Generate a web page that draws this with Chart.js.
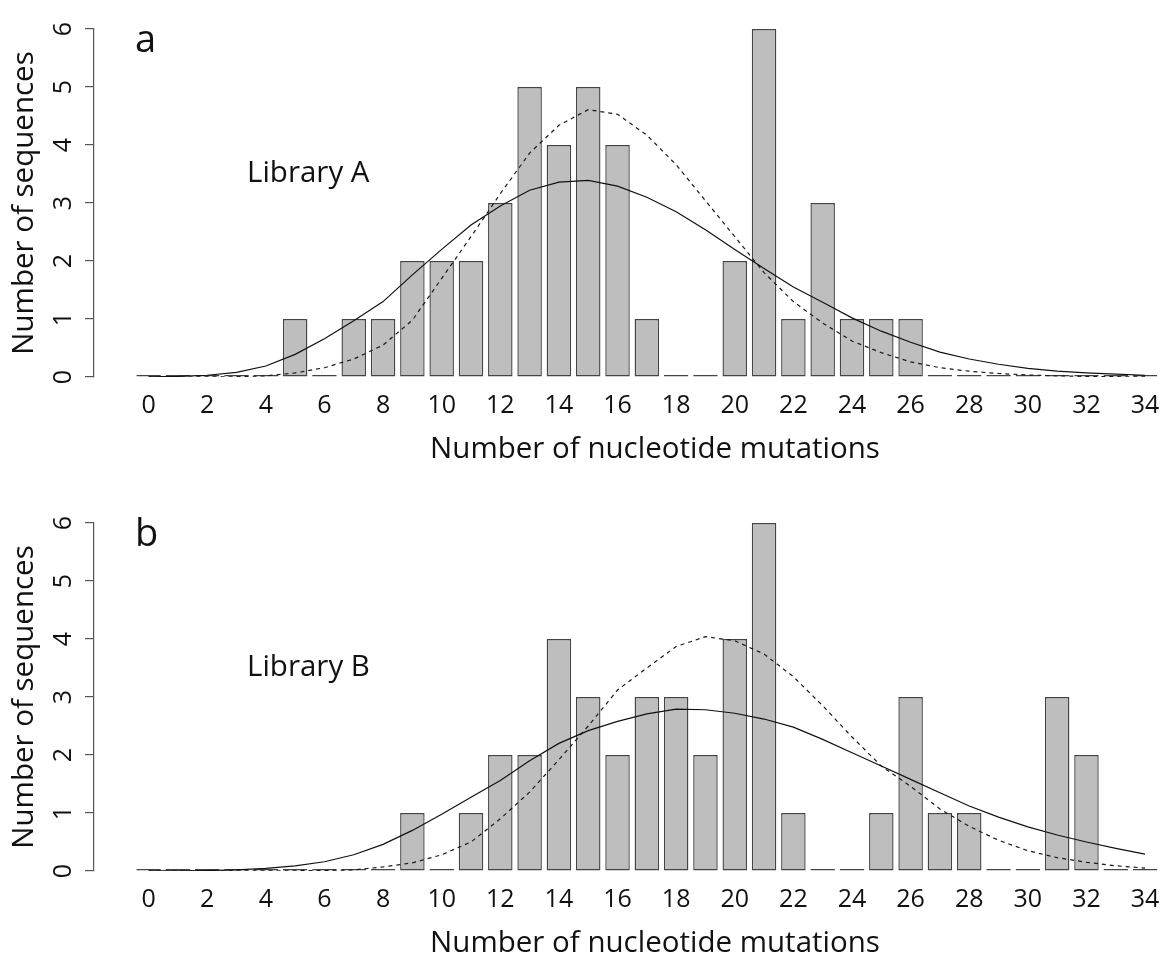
<!DOCTYPE html>
<html>
<head>
<meta charset="utf-8">
<script src="https://cdn.jsdelivr.net/npm/chart.js@4.4.1/dist/chart.umd.min.js"></script>
<style>
  html, body { margin: 0; padding: 0; background: #fff; overflow: hidden; width: 1164px; height: 958px; }
  .panel { position: absolute; left: 0; }
  #pa { top: 0; }
  #pb { top: 494px; }
  canvas { display: block; }
</style>
</head>
<body>
<div class="panel" id="pa"><canvas id="ca" width="1216" height="494"></canvas></div>
<div class="panel" id="pb"><canvas id="cb" width="1216" height="464"></canvas></div>
<script>
// Number of nucleotide mutations per sequence (histogram bins)
const mutations = [0,1,2,3,4,5,6,7,8,9,10,11,12,13,14,15,16,17,18,19,20,21,22,23,24,25,26,27,28,29,30,31,32,33,34];

// Observed counts of sequences
const countsA = [0,0,0,0,0,1,0,1,1,2,2,2,3,5,4,5,4,1,0,0,2,6,1,3,1,1,1,0,0,0,0,0,0,0,0];
const countsB = [0,0,0,0,0,0,0,0,0,1,0,1,2,2,4,3,2,3,3,2,4,6,1,0,0,1,3,1,1,0,0,3,2,0,0];

// Fitted distributions (solid and dashed curves)
const solidA  = [0.003,0.01,0.03,0.08,0.19,0.39,0.66,0.97,1.30,1.76,2.20,2.62,2.95,3.22,3.36,3.39,3.29,3.10,2.85,2.54,2.20,1.87,1.55,1.29,1.02,0.79,0.60,0.43,0.31,0.22,0.15,0.10,0.07,0.05,0.03];
const dashedA = [0,0,0.001,0.005,0.02,0.07,0.16,0.31,0.55,0.98,1.70,2.42,3.16,3.86,4.34,4.61,4.53,4.17,3.66,3.04,2.42,1.80,1.30,0.93,0.62,0.42,0.26,0.16,0.10,0.06,0.035,0.02,0.01,0.005,0.003];
const solidB  = [0.001,0.003,0.008,0.02,0.045,0.09,0.16,0.28,0.46,0.70,0.98,1.27,1.56,1.90,2.20,2.42,2.58,2.71,2.79,2.78,2.72,2.62,2.48,2.27,2.04,1.81,1.58,1.35,1.12,0.93,0.76,0.62,0.50,0.39,0.29];
const dashedB = [0,0,0,0.001,0.002,0.004,0.008,0.02,0.07,0.14,0.28,0.50,0.90,1.36,1.92,2.50,3.12,3.50,3.87,4.04,3.97,3.74,3.35,2.85,2.31,1.81,1.46,1.07,0.77,0.53,0.35,0.23,0.15,0.09,0.05];

// Axis tick labels
const xTicks = [0,2,4,6,8,10,12,14,16,18,20,22,24,26,28,30,32,34];
const yTicks = [0,1,2,3,4,5,6];

const FONT = "'Open Sans', sans-serif";
Chart.defaults.font.family = FONT;
Chart.defaults.color = '#111';

// Panel letter and library name
const panelText = {
  id: 'panelText',
  afterDraw(chart, args, opts) {
    const ctx = chart.ctx;
    ctx.save();
    ctx.fillStyle = '#111';
    ctx.textBaseline = 'alphabetic';
    ctx.textAlign = 'left';
    ctx.font = "38px " + FONT;
    ctx.fillText(opts.letter, 135, 52);
    ctx.font = "29.5px " + FONT;
    ctx.fillText(opts.label, 247, 182);
    ctx.restore();
  }
};

function pts(values) {
  return mutations.map((m, i) => ({ x: m, y: values[i] }));
}

function makeChart(id, counts, solid, dashed, letter, label, padBottom) {
  return new Chart(document.getElementById(id), {
    type: 'bar',
    data: {
      datasets: [
        {
          type: 'line', data: pts(solid), borderColor: '#111', borderWidth: 1.2,
          pointRadius: 0, tension: 0, fill: false, order: 1
        },
        {
          type: 'line', data: pts(dashed), borderColor: '#1a1a1a', borderWidth: 1.2,
          borderDash: [4, 4], pointRadius: 0, tension: 0, fill: false, order: 2
        },
        {
          type: 'bar', data: pts(counts), backgroundColor: '#bebebe', borderColor: '#444',
          borderWidth: 1.4, borderSkipped: false, barPercentage: 0.836, categoryPercentage: 1,
          minBarLength: 2, inflateAmount: 0, order: 3
        }
      ]
    },
    options: {
      responsive: false,
      animation: false,
      devicePixelRatio: 1,
      layout: { padding: { top: 21.5, right: 0, bottom: padBottom, left: 0 } },
      plugins: {
        legend: { display: false },
        tooltip: { enabled: false },
        panelText: { letter: letter, label: label }
      },
      scales: {
        x: {
          type: 'linear', min: -1.863, max: 36.42, offset: false,
          afterBuildTicks: s => { s.ticks = xTicks.map(v => ({ value: v })); },
          afterFit: s => { s.height = 87; },
          grid: { display: false, drawTicks: false, tickLength: 0 },
          border: { display: false },
          ticks: { font: { size: 25 }, color: '#111', padding: 14, maxRotation: 0, autoSkip: false,
                   callback: v => String(v) },
          title: { display: true, text: 'Number of nucleotide mutations', color: '#111',
                   font: { size: 29.5, lineHeight: 1 }, padding: { top: 0, bottom: 0 } }
        },
        y: {
          min: 0, max: 6,
          afterBuildTicks: s => { s.ticks = yTicks.map(v => ({ value: v })); },
          afterFit: s => { s.width = 94; },
          grid: { drawOnChartArea: false, drawTicks: true, tickLength: 9, color: '#555', lineWidth: 1.2 },
          border: { display: true, color: '#555', width: 1.2 },
          ticks: { font: { size: 25 }, color: '#111', padding: 14, minRotation: 90, maxRotation: 90,
                   crossAlign: 'center', autoSkip: false },
          title: { display: true, text: 'Number of sequences', color: '#111',
                   font: { size: 29.5, lineHeight: 1 }, padding: { top: 10, bottom: 0 } }
        }
      }
    },
    plugins: [panelText]
  });
}

makeChart('ca', countsA, solidA, dashedA, 'a', 'Library A', 30);
makeChart('cb', countsB, solidB, dashedB, 'b', 'Library B', 0);
</script>
</body>
</html>
